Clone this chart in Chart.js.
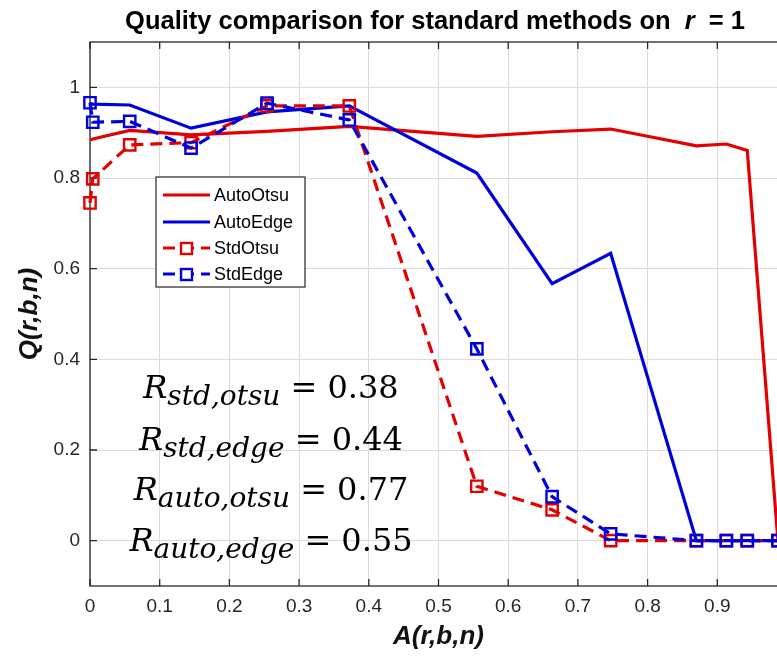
<!DOCTYPE html>
<html>
<head>
<meta charset="utf-8">
<title>Quality comparison</title>
<script src="https://cdn.jsdelivr.net/npm/chart.js@4.4.0/dist/chart.umd.min.js"></script>
<style>
    html, body { margin: 0; padding: 0; background: #fff; overflow: hidden; }
    #wrap { width: 777px; height: 665px; overflow: hidden; }
    canvas { display: block; }
</style>
</head>
<body>
<div id="wrap"><canvas id="myChart" width="800" height="665"></canvas></div>
<script>
/* ---------- data ---------- */
const aValues  = [0, 0.004, 0.057, 0.145, 0.254, 0.372, 0.555, 0.663, 0.747, 0.870, 0.913, 0.943, 0.987];
const autoOtsu = [0.884, 0.886, 0.905, 0.895, 0.903, 0.914, 0.892, 0.902, 0.908, 0.871, 0.875, 0.861, 0];
const autoEdge = [0.964, 0.963, 0.961, 0.910, 0.946, 0.959, 0.811, 0.567, 0.634, 0, 0, 0, 0];
const stdOtsu  = [0.745, 0.798, 0.873, 0.878, 0.959, 0.959, 0.120, 0.068, 0, 0, 0, 0, 0];
const stdEdge  = [0.966, 0.923, 0.925, 0.866, 0.965, 0.928, 0.423, 0.097, 0.015, 0, 0, 0, 0];

const xTicks = [0, 0.1, 0.2, 0.3, 0.4, 0.5, 0.6, 0.7, 0.8, 0.9];
const yTicks = [0, 0.2, 0.4, 0.6, 0.8, 1];

const ratioNames  = ['std,otsu', 'std,edge', 'auto,otsu', 'auto,edge'];
const ratioValues = ['0.38', '0.44', '0.77', '0.55'];

const RED = '#e40000';
const BLUE = '#0000dc';
const AXIS = '#262626';
const SANS = '"Liberation Sans", Arial, Helvetica, sans-serif';
const SERIF = '"DejaVu Serif", serif';

function toPoints(ys) {
    return aValues.map(function(a, i) { return { x: a, y: ys[i] }; });
}

/* ---------- matlab look: box, inner ticks, title, legend, R values ---------- */
const matlabLook = {
    id: 'matlabLook',
    beforeDatasetsDraw(chart) {
        const ctx = chart.ctx;
        const a = chart.chartArea;
        const xs = chart.scales.x, ys = chart.scales.y;
        ctx.save();
        ctx.strokeStyle = AXIS;
        ctx.lineWidth = 1.3;
        ctx.strokeRect(a.left, a.top, a.right - a.left, a.bottom - a.top);
        ctx.beginPath();
        xTicks.forEach(function(v) {
            const px = xs.getPixelForValue(v);
            ctx.moveTo(px, a.bottom); ctx.lineTo(px, a.bottom - 7);
            ctx.moveTo(px, a.top); ctx.lineTo(px, a.top + 7);
        });
        yTicks.forEach(function(v) {
            const py = ys.getPixelForValue(v);
            ctx.moveTo(a.left, py); ctx.lineTo(a.left + 7, py);
            ctx.moveTo(a.right, py); ctx.lineTo(a.right - 7, py);
        });
        ctx.stroke();
        ctx.restore();
    },
    afterDraw(chart) {
        const ctx = chart.ctx;
        ctx.save();

        // title, with an italic r
        const parts = [
            { t: 'Quality comparison for standard methods on  ', f: 'bold 25.5px ' + SANS },
            { t: 'r', f: 'italic bold 25.5px ' + SANS },
            { t: '  = 1', f: 'bold 25.5px ' + SANS }
        ];
        let w = 0;
        parts.forEach(function(p) { ctx.font = p.f; p.w = ctx.measureText(p.t).width; w += p.w; });
        let x = 435 - w / 2;
        ctx.fillStyle = '#000';
        ctx.textBaseline = 'alphabetic';
        parts.forEach(function(p) { ctx.font = p.f; ctx.fillText(p.t, x, 29); x += p.w; });

        // legend box
        const lb = { l: 156, t: 177, r: 305, b: 287 };
        ctx.fillStyle = '#fff';
        ctx.fillRect(lb.l, lb.t, lb.r - lb.l, lb.b - lb.t);
        ctx.strokeStyle = AXIS;
        ctx.lineWidth = 1.2;
        ctx.strokeRect(lb.l, lb.t, lb.r - lb.l, lb.b - lb.t);
        const rows = [195, 222, 248, 274];
        chart.data.datasets.forEach(function(ds, i) {
            const y = rows[i];
            ctx.strokeStyle = ds.borderColor;
            ctx.lineWidth = ds.borderWidth;
            ctx.setLineDash(ds.borderDash || []);
            ctx.beginPath();
            ctx.moveTo(163, y); ctx.lineTo(210, y);
            ctx.stroke();
            ctx.setLineDash([]);
            if (ds.pointRadius > 0) {
                ctx.fillStyle = '#fff';
                ctx.fillRect(181, y - 5, 11, 11);
                ctx.lineWidth = ds.pointBorderWidth;
                ctx.strokeRect(181, y - 5, 11, 11);
            }
            ctx.fillStyle = '#000';
            ctx.font = '18px ' + SANS;
            ctx.textBaseline = 'middle';
            ctx.fillText(ds.label, 214, y + 1);
        });

        // R values
        const base = [398, 450, 500, 551];
        ctx.textBaseline = 'alphabetic';
        ctx.fillStyle = '#000';
        ratioNames.forEach(function(name, i) {
            const seg = [
                { t: 'R', f: 'italic 32px ' + SERIF, dy: 0 },
                { t: name, f: 'italic 28px ' + SERIF, dy: 7 },
                { t: ' = ' + ratioValues[i], f: '32px ' + SERIF, dy: 0 }
            ];
            let tw = 0;
            seg.forEach(function(s) { ctx.font = s.f; s.w = ctx.measureText(s.t).width; tw += s.w; });
            let sx = 271 - tw / 2;
            seg.forEach(function(s) { ctx.font = s.f; ctx.fillText(s.t, sx, base[i] + s.dy); sx += s.w; });
        });
        ctx.restore();
    }
};

/* ---------- chart ---------- */
const ctx = document.getElementById('myChart').getContext('2d');
const myChart = new Chart(ctx, {
    type: 'line',
    data: {
        datasets: [{
            label: 'AutoOtsu',
            data: toPoints(autoOtsu),
            borderColor: RED,
            borderWidth: 3.2,
            pointRadius: 0,
            order: 4
        }, {
            label: 'AutoEdge',
            data: toPoints(autoEdge),
            borderColor: BLUE,
            borderWidth: 3.2,
            pointRadius: 0,
            order: 3
        }, {
            label: 'StdOtsu',
            data: toPoints(stdOtsu),
            borderColor: RED,
            borderWidth: 3.2,
            borderDash: [12, 7],
            pointStyle: 'rect',
            pointRadius: 8,
            pointBorderWidth: 2.4,
            pointBorderColor: RED,
            pointBackgroundColor: 'rgba(255,255,255,0)',
            order: 2
        }, {
            label: 'StdEdge',
            data: toPoints(stdEdge),
            borderColor: BLUE,
            borderWidth: 3.2,
            borderDash: [12, 7],
            pointStyle: 'rect',
            pointRadius: 8,
            pointBorderWidth: 2.4,
            pointBorderColor: BLUE,
            pointBackgroundColor: 'rgba(255,255,255,0)',
            order: 1
        }]
    },
    options: {
        responsive: false,
        animation: false,
        clip: false,
        tension: 0,
        layout: { padding: { top: 42, right: 13, bottom: 0, left: 0 } },
        plugins: {
            legend: { display: false },
            title: { display: false },
            tooltip: { enabled: false }
        },
        scales: {
            x: {
                type: 'linear',
                min: 0,
                max: 1,
                afterBuildTicks: function(s) { s.ticks = xTicks.map(function(v) { return { value: v }; }); },
                afterFit: function(s) { s.height = 79; },
                ticks: {
                    autoSkip: false,
                    maxRotation: 0,
                    padding: 9,
                    color: AXIS,
                    font: { family: SANS, size: 19 },
                    callback: function(v) { return String(v); }
                },
                grid: { color: '#dcdcdc', lineWidth: 1, drawTicks: false },
                border: { display: false },
                title: {
                    display: true,
                    text: 'A(r,b,n)',
                    color: '#111',
                    font: { family: SANS, size: 26, weight: 'bold', style: 'italic' },
                    padding: { top: 0, bottom: 13 }
                }
            },
            y: {
                type: 'linear',
                min: -0.1,
                max: 1.1,
                afterBuildTicks: function(s) { s.ticks = yTicks.map(function(v) { return { value: v }; }); },
                afterFit: function(s) { s.width = 90; },
                ticks: {
                    padding: 10,
                    color: AXIS,
                    font: { family: SANS, size: 19 },
                    callback: function(v) { return String(v); }
                },
                grid: { color: '#dcdcdc', lineWidth: 1, drawTicks: false },
                border: { display: false },
                title: {
                    display: true,
                    text: 'Q(r,b,n)',
                    color: '#111',
                    font: { family: SANS, size: 26, weight: 'bold', style: 'italic' },
                    padding: { top: 14, bottom: 0 }
                }
            }
        }
    },
    plugins: [matlabLook]
});
</script>
</body>
</html>
